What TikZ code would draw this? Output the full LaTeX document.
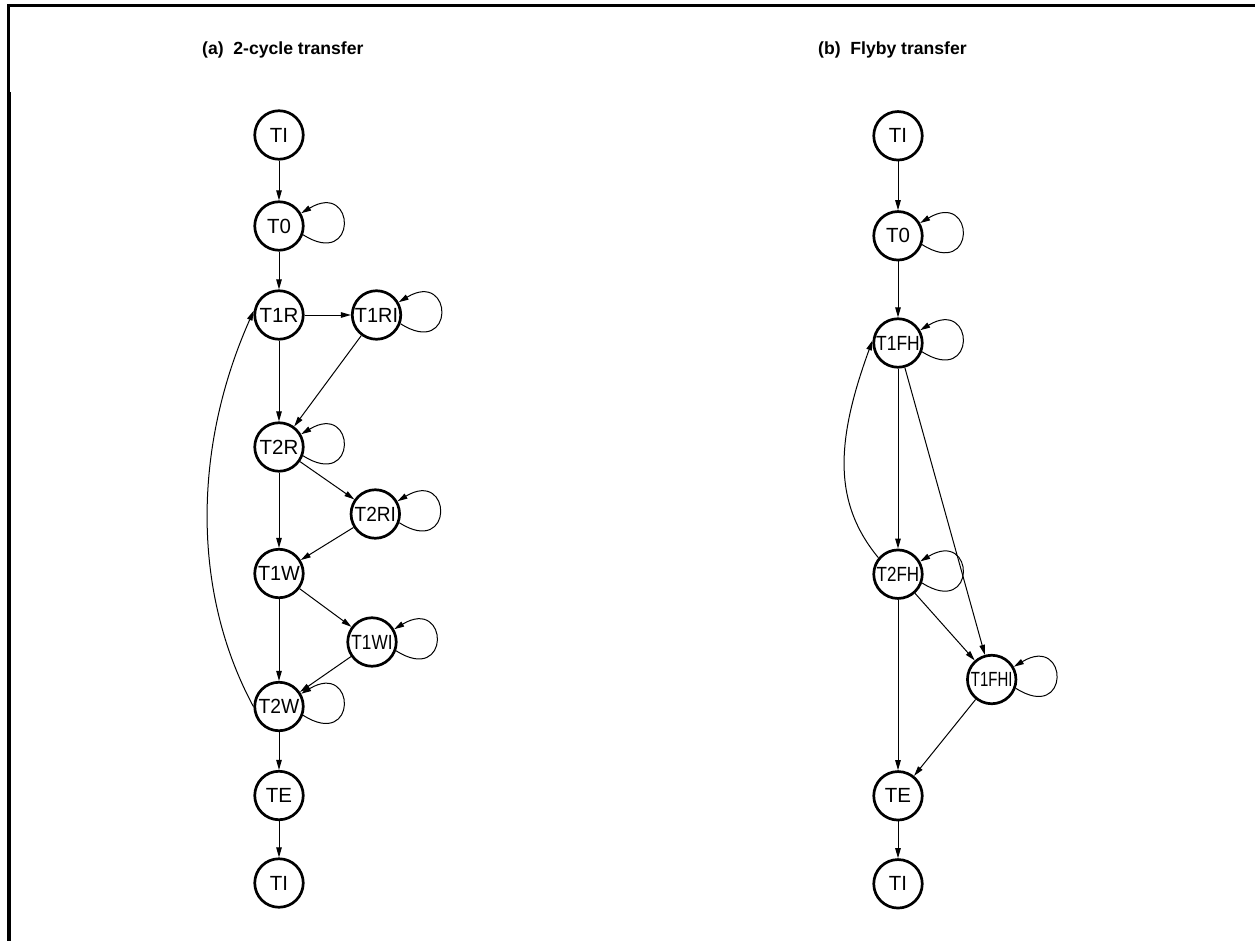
\documentclass[tikz,border=0pt]{standalone}
\usepackage{fontspec}
\usepackage{graphicx}
\setmainfont{Liberation Sans}
\usetikzlibrary{arrows.meta}
\tikzset{
  st/.style={circle, draw, line width=2.7pt, minimum size=48.5pt, inner sep=0pt,
    font=\fontsize{20.5}{20}\selectfont},
  arr/.style={line width=1pt, -{Triangle[length=10pt,width=5.5pt]}},
  ttl/.style={font=\fontsize{17.6}{20}\selectfont\bfseries, inner sep=0pt, anchor=base west},
}
\newcommand\lb[2][0.85]{\scalebox{#1}[1]{#2}}
\newcommand\selfloop[1]{\draw[arr] (#1.-20) .. controls +(55pt,-35pt) and +(55pt,33pt) .. (#1.30);}
\begin{document}
\begin{tikzpicture}[x=1pt,y=1pt]
\useasboundingbox (0,0) rectangle (1255,-941);
% frame
\draw[line width=3pt] (7.3,-5.5) -- (1255,-5.5);
\draw[line width=2.7pt] (8.7,-4) -- (8.7,-92);
\draw[line width=3.3pt] (9,-92) -- (9,-941);
% titles
\node[ttl] (ta) at (202,-55) {(a)\hspace{0.55em}2-cycle transfer};
\node[ttl] (tb) at (818,-55) {(b)\hspace{0.55em}Flyby transfer};
% (a) nodes
\node[st] (aTI)  at (279,-135)   {TI};
\node[st] (aT0)  at (279,-226)   {T0};
\node[st] (T1R)  at (279,-315)   {T1R};
\node[st] (T1RI) at (376.5,-315) {\lb[0.97]{T1RI}};
\node[st] (T2R)  at (279,-447)   {T2R};
\node[st] (T2RI) at (375.3,-514) {\lb[0.93]{T2RI}};
\node[st] (T1W)  at (279,-573.5) {\lb[0.97]{T1W}};
\node[st] (T1WI) at (372,-642)   {\lb[0.84]{T1WI}};
\node[st] (T2W)  at (279,-706.5) {\lb[0.94]{T2W}};
\node[st] (aTE)  at (279,-795.5) {TE};
\node[st] (aTI2) at (279,-883)   {TI};
% (a) edges
\draw[arr] (aTI) -- (aT0);
\draw[arr] (aT0) -- (T1R);
\draw[arr] (T1R) -- (T1RI);
\draw[arr] (T1R) -- (T2R);
\draw[arr] (T1RI) -- (T2R);
\draw[arr] (T2R) -- (T2RI);
\draw[arr] (T2R) -- (T1W);
\draw[arr] (T2RI) -- (T1W);
\draw[arr] (T1W) -- (T1WI);
\draw[arr] (T1W) -- (T2W);
\draw[arr] (T1WI) -- (T2W);
\draw[arr] (T2W) -- (aTE);
\draw[arr] (aTE) -- (aTI2);
\draw[arr] (T2W.180) .. controls +(-61.7pt,114.4pt) and +(-61pt,-137pt) .. (T1R.170);
\selfloop{aT0}
\selfloop{T1RI}
\selfloop{T2R}
\selfloop{T2RI}
\selfloop{T1WI}
\selfloop{T2W}
% (b) nodes
\node[st] (bTI)   at (898,-135.8) {TI};
\node[st] (bT0)   at (898,-235.8) {T0};
\node[st] (T1FH)  at (898,-343)   {\lb[0.85]{T1FH}};
\node[st] (T2FH)  at (898,-574.2) {\lb[0.83]{T2FH}};
\node[st] (T1FHI) at (991.7,-679.5) {\lb[0.73]{T1FHI}};
\node[st] (bTE)   at (898,-795.8) {TE};
\node[st] (bTI2)  at (898,-883.8) {TI};
% (b) edges
\draw[arr] (bTI) -- (bT0);
\draw[arr] (bT0) -- (T1FH);
\draw[arr] (T1FH) -- (T2FH);
\draw[arr] (T1FH) -- (T1FHI);
\draw[arr] (T2FH) -- (T1FHI);
\draw[arr] (T2FH) -- (bTE);
\draw[arr] (T1FHI) -- (bTE);
\draw[arr] (bTE) -- (bTI2);
\draw[arr] (T2FH.140) .. controls +(-44.6pt,54pt) and +(-37.8pt,-103.3pt) .. (T1FH.174);
\selfloop{bT0}
\selfloop{T1FH}
\selfloop{T2FH}
\selfloop{T1FHI}
\end{tikzpicture}
\end{document}
